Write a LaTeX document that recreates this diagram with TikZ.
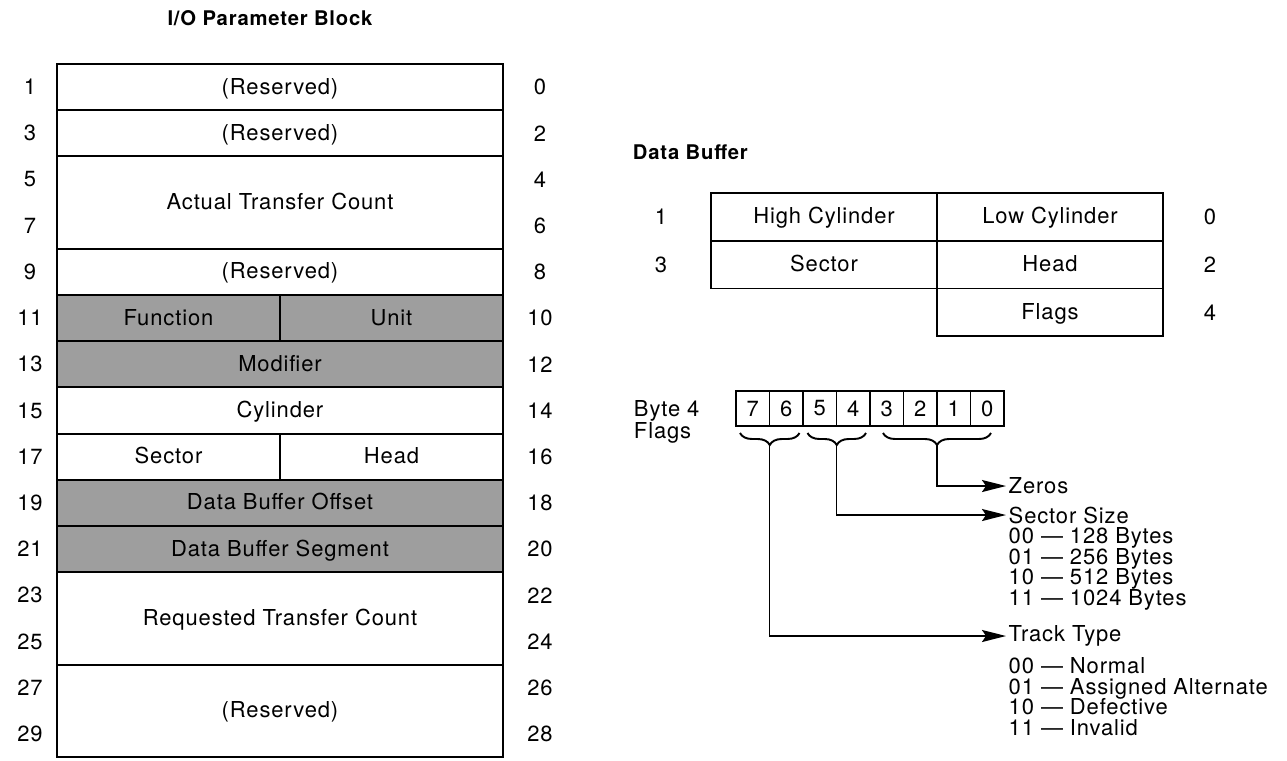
\documentclass[tikz,border=0pt]{standalone}
\usepackage{fontspec}
\setmainfont{TeX Gyre Heros}[LetterSpace=4]
\usetikzlibrary{positioning,arrows.meta,calc,decorations.pathreplacing}

\begin{document}
\begin{tikzpicture}[
    font=\fontsize{12.5}{14}\selectfont,
    line width=1.1pt,
    full/.style={draw, minimum width=8.92cm, minimum height=0.924cm,
                 outer sep=0pt, inner sep=0pt, anchor=north west,
                 text height=1.5ex, text depth=0pt},
    dbl/.style={full, minimum height=1.848cm},
    half/.style={full, minimum width=4.46cm},
    shade/.style={fill=black!38},
    cell/.style={draw, minimum width=4.52cm, minimum height=0.955cm,
                 outer sep=0pt, inner sep=0pt, anchor=north west,
                 text height=1.5ex, text depth=0pt},
    bit/.style={draw, minimum width=0.67cm, minimum height=0.7cm,
                outer sep=0pt, inner sep=0pt},
    head/.style={font=\fontsize{11.5}{13}\selectfont\bfseries},
    txt/.style={anchor=west, inner sep=1pt},
    lst/.style={anchor=north west, align=left, inner sep=1pt,
                font={\fontsize{12.5}{11.7}\selectfont\lineskiplimit-6pt\relax}},
    brc/.style={decorate, decoration={brace, mirror, amplitude=2.4mm}},
    arr/.style={-{Stealth[length=4.8mm, width=2.4mm, inset=0.8mm]}},
  ]
  \useasboundingbox (0,0) rectangle (25.74,-15.2);

  % I/O parameter block, word by word
  \node[head] (iopb) at (5.4,-0.36) {I/O Parameter Block};
  \node[full] (r0) at (1.14,-1.28) {(Reserved)};
  \node[full] (r2) at (r0.south west) {(Reserved)};
  \node[dbl] (r4) at (r2.south west) {Actual Transfer Count};
  \node[full] (r8) at (r4.south west) {(Reserved)};
  \node[half, shade] (fn) at (r8.south west) {Function};
  \node[half, shade] (unit) at (fn.north east) {Unit};
  \node[full, shade] (mod) at (fn.south west) {Modifier};
  \node[full] (cyl) at (mod.south west) {Cylinder};
  \node[half] (sec) at (cyl.south west) {Sector};
  \node[half] (hd) at (sec.north east) {Head};
  \node[full, shade] (dbo) at (sec.south west) {Data Buffer Offset};
  \node[full, shade] (dbs) at (dbo.south west) {Data Buffer Segment};
  \node[dbl] (rtc) at (dbs.south west) {Requested Transfer Count};
  \node[dbl] (r26) at (rtc.south west) {(Reserved)};

  % byte offsets, odd on the left and even on the right
  \foreach \lo/\hi [count=\k] in {1/0,3/2,5/4,7/6,9/8,11/10,13/12,15/14,
                                  17/16,19/18,21/20,23/22,25/24,27/26,29/28} {
    \node (lo\lo) at (0.6,{-1.28-0.924*(\k-0.5)}) {\lo};
    \node (hi\hi) at (10.8,{-1.28-0.924*(\k-0.5)}) {\hi};
  }

  % data buffer
  \node[head, anchor=west, inner sep=0pt] (dbuf) at (12.64,-3.04) {Data Buffer};
  \node[cell] (hcyl) at (14.22,-3.86) {High Cylinder};
  \node[cell] (lcyl) at (hcyl.north east) {Low Cylinder};
  \node[cell] (bsec) at (hcyl.south west) {Sector};
  \node[cell] (bhd) at (lcyl.south west) {Head};
  \node[cell] (bfl) at (bhd.south west) {Flags};
  \node[left=0.74cm of hcyl] (n1) {1};
  \node[left=0.74cm of bsec] (n3) {3};
  \node[right=0.68cm of lcyl] (n0) {0};
  \node[right=0.68cm of bhd] (n2) {2};
  \node[right=0.68cm of bfl] (n4) {4};

  % byte 4 flag bits
  \node[anchor=west, align=left, inner sep=0pt,
        font=\fontsize{12.5}{12.5}\selectfont] (byte) at (12.66,-8.44) {Byte 4\\Flags};
  \foreach \b [count=\k from 0] in {7,6,5,4,3,2,1,0}
    \node[bit] (b\b) at ({14.72+0.67*\k+0.335},-8.17) {\b};

  \draw[brc] ([xshift=0.08cm,yshift=-0.14cm]b7.south west)
    -- ([xshift=-0.07cm,yshift=-0.14cm]b6.south east);
  \draw[brc] ([xshift=0.09cm,yshift=-0.14cm]b5.south west)
    -- ([xshift=-0.08cm,yshift=-0.14cm]b4.south east);
  \draw[brc] ([xshift=0.26cm,yshift=-0.14cm]b3.south west)
    -- ([xshift=-0.26cm,yshift=-0.14cm]b0.south east);
  \coordinate (t76) at ($(b7.south east)+(0,-0.38)$);
  \coordinate (t54) at ($(b5.south east)+(0,-0.38)$);
  \coordinate (t30) at ($(b2.south east)+(0,-0.38)$);

  % meanings of the bit fields
  \node[txt] (zeros) at (20.12,-9.72) {Zeros};
  \node[txt] (ssz) at (20.12,-10.3) {Sector Size};
  \node[lst] (sszl) at ($(ssz.south west)+(0,0.02)$)
    {00 --- 128 Bytes\\01 --- 256 Bytes\\10 --- 512 Bytes\\11 --- 1024 Bytes};
  \node[txt] (trk) at (20.12,-12.72) {Track Type};
  \node[lst] (trkl) at ($(trk.south west)+(0,-0.12)$)
    {00 --- Normal\\01 --- Assigned Alternate\\10 --- Defective\\11 --- Invalid};

  \draw[arr] (t30) |- (zeros.west);
  \draw[arr] (t54) |- (ssz.west);
  \draw[arr] (t76) |- (trk.west);
\end{tikzpicture}
\end{document}
